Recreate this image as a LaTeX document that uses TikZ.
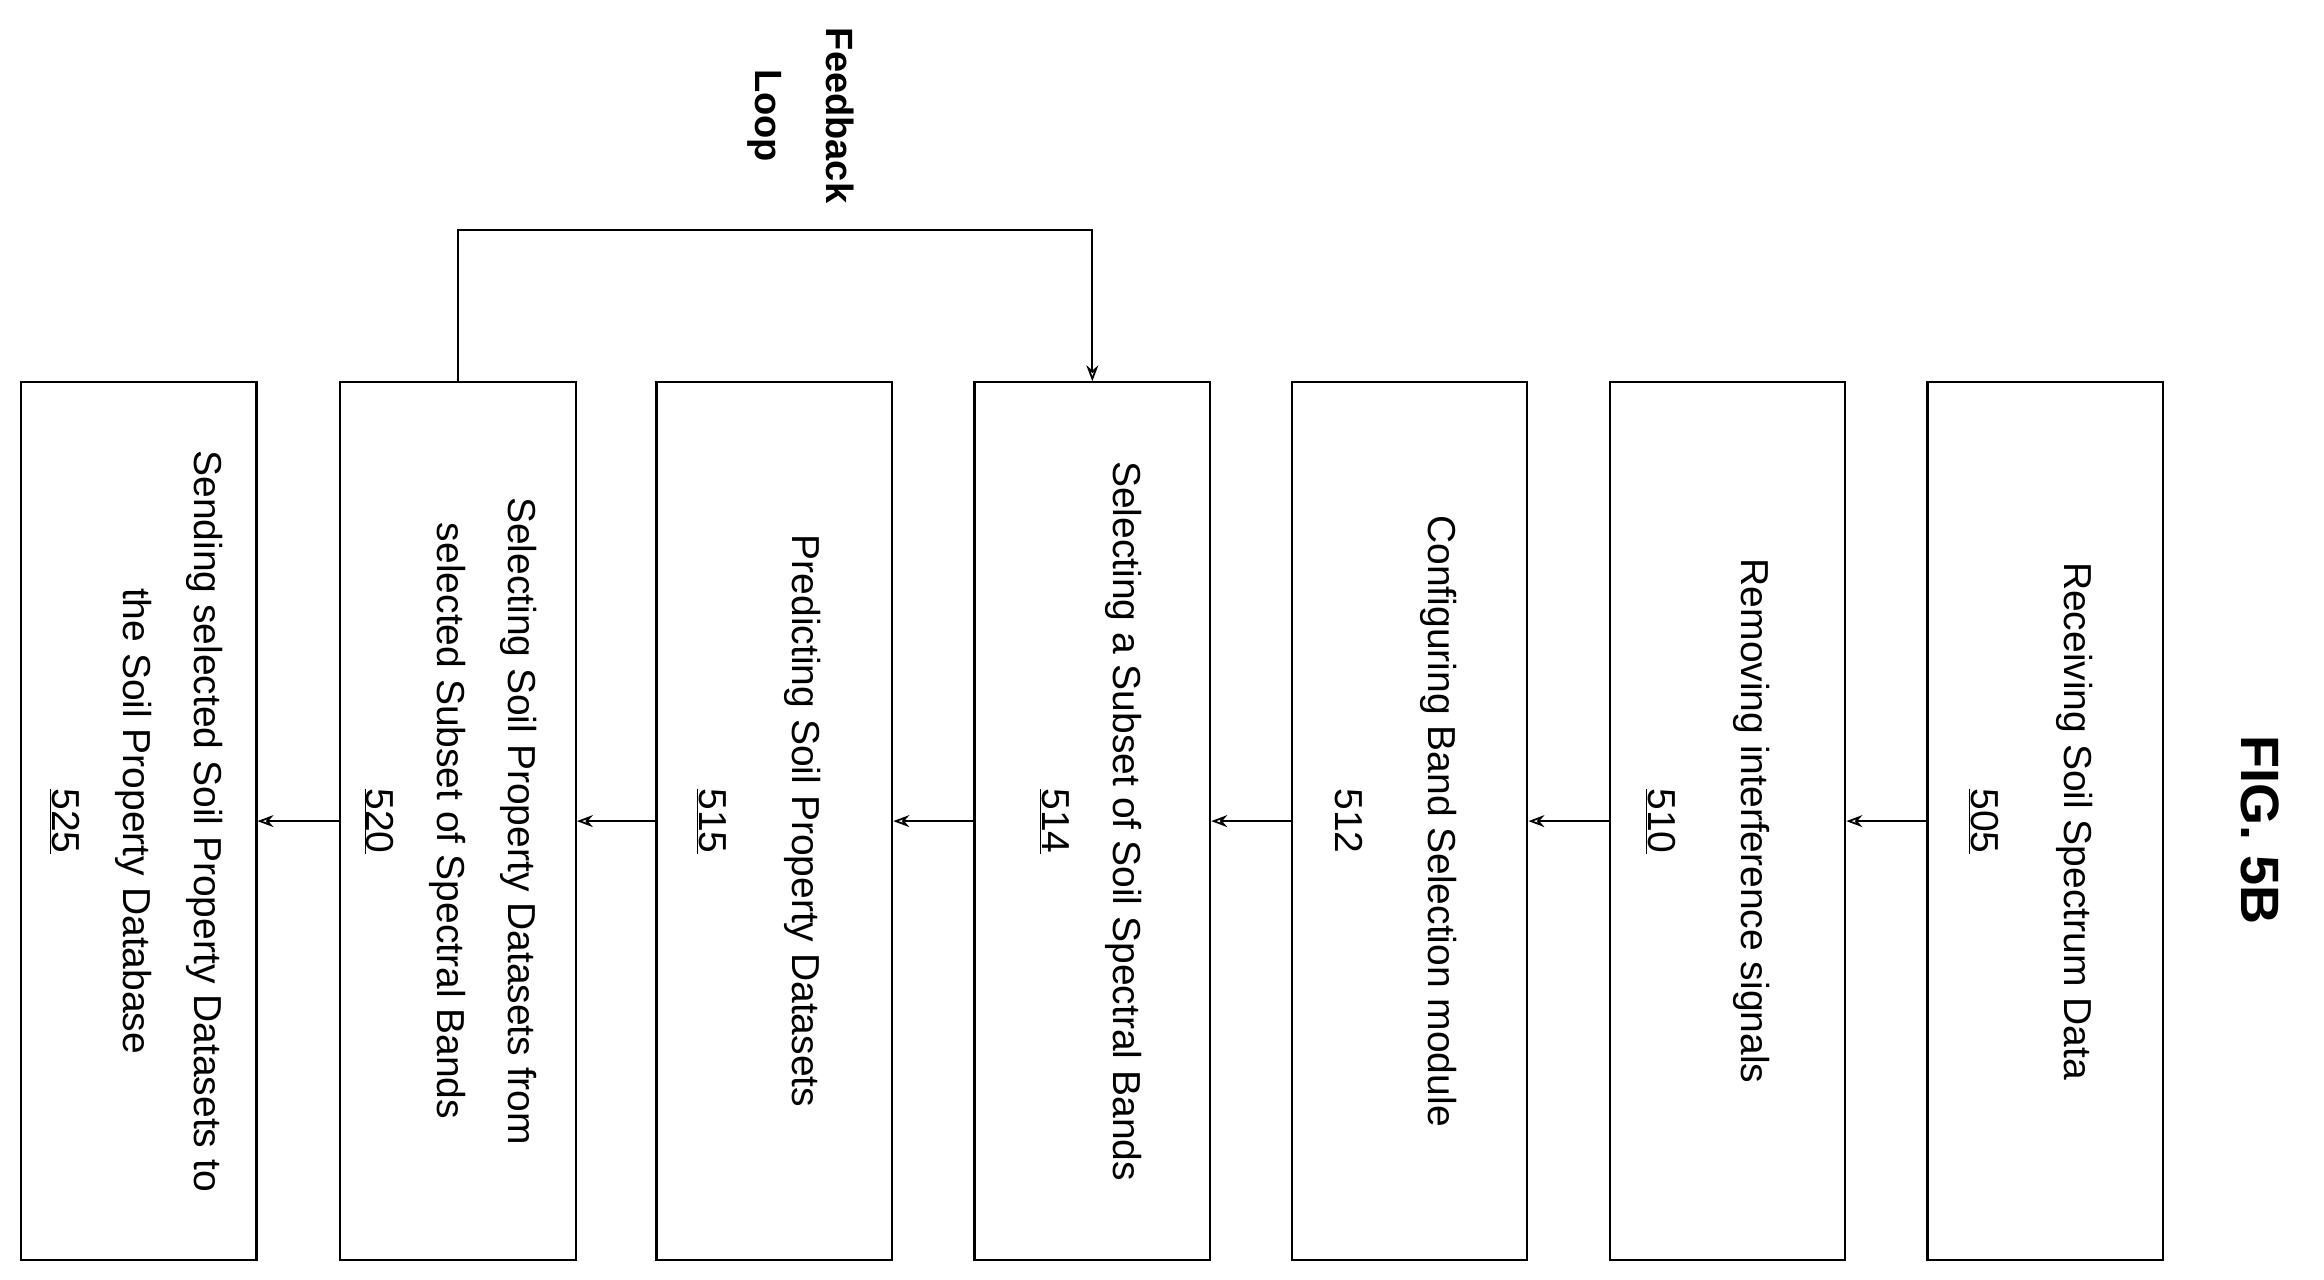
\documentclass[tikz,border=0pt]{standalone}
\usepackage{fontspec}
\setmainfont{Liberation Sans}
\usetikzlibrary{arrows.meta}
\begin{document}
\begin{tikzpicture}[x=1.482pt,y=-1.482pt,
  box/.style={draw,line width=2.2pt,rotate=-90,minimum width=592*1.482pt,minimum height=159*1.482pt,inner sep=0pt},
  txt/.style={rotate=-90,align=center,font=\fontsize{39pt}{71pt}\selectfont},
  arr/.style={line width=1.8pt,-{Stealth[length=16pt,width=12pt,open]}}]
\useasboundingbox (0,0) rectangle (1568,863);
\node[box] (b525) at (93.5,554) {};
\node[box] (b520) at (309,554) {};
\node[box] (b515) at (522.5,554) {};
\node[box] (b514) at (737,554) {};
\node[box] (b512) at (951,554) {};
\node[box] (b510) at (1165.5,554) {};
\node[box] (b505) at (1380,554) {};
\node[txt] at (92,554) {Sending selected Soil Property Datasets to\\the Soil Property Database\\\underline{525}};
\node[txt] at (304,554) {Selecting Soil Property Datasets from\\selected Subset of Spectral Bands\\\underline{520}};
\node[txt] at (512,554) {Predicting Soil Property Datasets\\[22pt]\underline{515}};
\node[txt] at (736,554) {Selecting a Subset of Soil Spectral Bands\\\underline{514}};
\node[txt] at (942,554) {Configuring Band Selection module\\[22pt]512};
\node[txt] at (1152,554) {Removing interference signals\\[22pt]\underline{510}};
\node[txt] at (1370,554) {Receiving Soil Spectrum Data\\[22pt]\underline{505}};
\node[rotate=-90,font=\fontsize{54pt}{60pt}\selectfont\bfseries] (fig) at (1525,560) {FIG. 5B};
\node[txt,font=\bfseries\fontsize{38pt}{71pt}\selectfont] (fb) at (540,78) {Feedback\\Loop};
\foreach \a/\b in {b505/b510,b510/b512,b512/b514,b514/b515,b515/b520,b520/b525}
  \draw[arr] (\a.south) -- (\b.north);
\coordinate (c1) at (309,155);
\coordinate (c2) at (737,155);
\draw[arr] (b520.west) -- (c1) -- (c2) -- (b514.west);
\end{tikzpicture}
\end{document}
